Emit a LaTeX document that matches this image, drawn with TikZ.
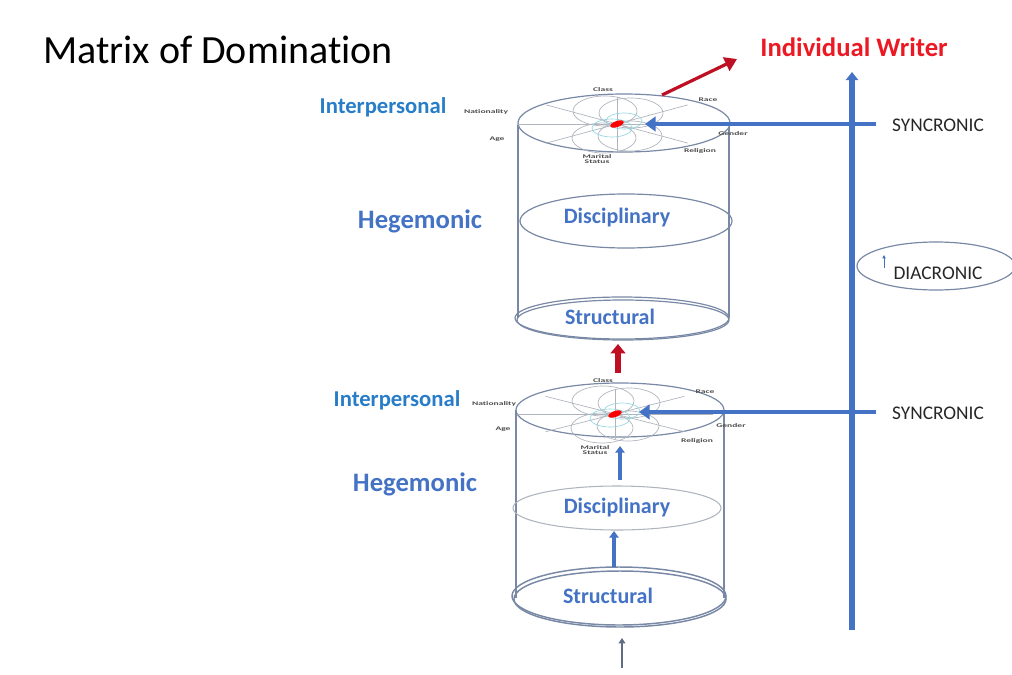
\documentclass[tikz,border=0pt]{standalone}
\usepackage{fontspec}
\setmainfont{Carlito}[Ligatures=NoCommon]
\usetikzlibrary{arrows.meta}
\definecolor{hegblue}{RGB}{68,114,196}
\definecolor{ipblue}{RGB}{40,125,200}
\definecolor{cylgrey}{RGB}{120,136,165}
\definecolor{petalgrey}{RGB}{175,180,190}
\definecolor{petalcyan}{RGB}{150,215,225}
\definecolor{writerred}{RGB}{235,25,35}
\definecolor{arrowred}{RGB}{190,15,35}
\newcommand{\widetxt}[1]{\scalebox{1.7}[1]{#1}}
\tikzset{every picture/.style={line width=0.75pt}}

\begin{document}
\begin{tikzpicture}[x=0.75pt,y=0.75pt,yscale=-1,xscale=1,
  cyl/.style={draw=cylgrey,line width=0.9pt},
  petal/.style={draw=petalgrey,line width=0.5pt},
  level/.style={font=\fontsize{16.5}{16.5}\bfseries,text=hegblue},
  sidelabel/.style={font=\fontsize{20}{20}\bfseries,text=hegblue},
  iplabel/.style={font=\fontsize{17}{17}\bfseries,text=ipblue},
  tiny/.style={font=\fontsize{4.2}{4.2}\bfseries,text=black!70,align=center,inner sep=0pt},
  timelabel/.style={font=\fontsize{14.5}{14.5}\selectfont,text=black!85},
  bluearrow/.style={draw=hegblue,line width=3.6pt,-{Triangle[length=8pt,width=11pt]}},
  redarrow/.style={draw=arrowred,-{Triangle[length=9pt,width=11pt]}}]
		\path[use as bounding box] (0,0) rectangle (1012,674);
		
		% Text Node
		\node (title) at (218,50) {\fontsize{30}{30}\selectfont Matrix of Domination};
		
		%Shape: Cylinder sides (upper)
		\draw [cyl]   (518,124) -- (518,318) ;
		\draw [cyl]   (729,124) -- (729,318) ;
		%Shape: Ellipse (upper disciplinary)
		\draw [cyl]   (626,221) ellipse (106 and 27) ;
		%Shape: Ellipse (upper structural)
		\draw [cyl]   (622,318) ellipse (107 and 21) ;
		\draw [cyl]   (623,320) ellipse (106 and 20) ;
		%Shape: Ellipse (upper top)
		\draw [cyl,fill=white]   (624,123) ellipse (106 and 29) ;
		
		%Shape: Petals (upper)
		\foreach \dx/\dy in {-12/-13,14/-11,-13/14,13/12}
		  {\draw [petal]   (617+\dx,124+\dy) ellipse (32 and 15) ;}
		\foreach \ang in {0,45,90,135,180,225,270,315}
		  {\draw [petal]   (617,124) -- ++({100*cos(\ang)},{27*sin(\ang)}) ;}
		\draw [draw=petalcyan,line width=0.5pt]   (612,128) ellipse (20 and 9) ;
		\draw [draw=petalcyan,line width=0.5pt]   (624,121) ellipse (18 and 8) ;
		\draw [fill=red,draw=none,rotate around={-20:(617,124)}]   (617,124) ellipse (7 and 3) ;
		
		%Shape: Cylinder sides (lower)
		\draw [cyl]   (516,410) -- (516,598) ;
		\draw [cyl]   (724,410) -- (724,598) ;
		%Shape: Ellipse (lower disciplinary)
		\draw [draw=petalgrey,line width=0.8pt]   (617,508) ellipse (104 and 22) ;
		%Shape: Ellipse (lower structural)
		\draw [cyl,line width=1.1pt]   (619,596) ellipse (107 and 29) ;
		\draw [cyl,line width=1.1pt]   (620,599) ellipse (106 and 28) ;
		%Shape: Ellipse (lower top)
		\draw [cyl,fill=white]   (620,410) ellipse (104 and 27) ;
		
		%Shape: Petals (lower)
		\foreach \dx/\dy in {-12/-13,14/-11,-13/14,13/12}
		  {\draw [petal]   (615+\dx,414+\dy) ellipse (31 and 15) ;}
		\foreach \ang in {0,45,90,135,180,225,270,315}
		  {\draw [petal]   (615,414) -- ++({98*cos(\ang)},{25*sin(\ang)}) ;}
		\draw [draw=petalcyan,line width=0.5pt]   (610,418) ellipse (20 and 9) ;
		\draw [draw=petalcyan,line width=0.5pt]   (622,411) ellipse (18 and 8) ;
		\draw [fill=red,draw=none,rotate around={-20:(615,414)}]   (615,414) ellipse (7 and 3) ;
		
		% Text Node (upper cylinder)
		\node [iplabel] (ipA) at (383,107) {Interpersonal};
		\node [sidelabel] (hgA) at (420,221) {Hegemonic};
		\node [level] (dsA) at (617,218) {Disciplinary};
		\node [level] (stA) at (610,317) {Structural};
		\node [tiny] (clA) at (603,90) {\widetxt{Class}};
		\node [tiny] (raA) at (708,100) {\widetxt{Race}};
		\node [tiny] (geA) at (733,134) {\widetxt{Gender}};
		\node [tiny] (reA) at (700,151) {\widetxt{Religion}};
		\node [tiny] (maA) at (597,159) {\widetxt{Marital}\\[-0.5pt]\widetxt{Status}};
		\node [tiny] (agA) at (497,139) {\widetxt{Age}};
		\node [tiny] (naA) at (486,112) {\widetxt{Nationality}};
		
		% Text Node (lower cylinder)
		\node [iplabel] (ipB) at (397,400) {Interpersonal};
		\node [sidelabel] (hgB) at (415,484) {Hegemonic};
		\node [level] (dsB) at (617,508) {Disciplinary};
		\node [level] (stB) at (608,596) {Structural};
		\node [tiny] (clB) at (603,381) {\widetxt{Class}};
		\node [tiny] (raB) at (705,392) {\widetxt{Race}};
		\node [tiny] (geB) at (731,426) {\widetxt{Gender}};
		\node [tiny] (reB) at (697,441) {\widetxt{Religion}};
		\node [tiny] (maB) at (595,450) {\widetxt{Marital}\\[-0.5pt]\widetxt{Status}};
		\node [tiny] (agB) at (503,429) {\widetxt{Age}};
		\node [tiny] (naB) at (494,404) {\widetxt{Nationality}};
		
		% Text Node (time axis)
		\node [font=\fontsize{20}{20}\bfseries,text=writerred] (writer) at (854,47) {Individual Writer};
		\node [timelabel] (synA) at (938,125) {SYNCRONIC};
		\node [timelabel] (synB) at (938,413) {SYNCRONIC};
		\node [timelabel] (dia) at (938,273) {DIACRONIC};
		\draw [draw=cylgrey,line width=0.9pt]   (936,266) ellipse (79 and 24) ;
		\coordinate (diaT) at (884,255) ;
		\coordinate (diaB) at (884,268) ;
		\draw [draw=hegblue,line width=0.6pt,-{Triangle[length=2.5pt,width=2.5pt]}]   (diaB) -- (diaT) ;
		
		% Arrows (time axis)
		\coordinate (axB) at (852,630) ;
		\coordinate (axT) at (852,72) ;
		\draw [bluearrow,line width=4.3pt,-{Triangle[length=6pt,width=9pt]}]   (axB) -- (axT) ;
		\coordinate (synAtail) at (876,124) ;
		\coordinate (synAtip) at (645,124) ;
		\draw [bluearrow]   (synAtail) -- (synAtip) ;
		\coordinate (synBtail) at (876,412) ;
		\coordinate (synBtip) at (639,412) ;
		\draw [bluearrow]   (synBtail) -- (synBtip) ;
		
		% Arrows (red)
		\coordinate (wrTail) at (662,95) ;
		\coordinate (wrTip) at (737,59) ;
		\draw [redarrow,line width=2.4pt]   (wrTail) -- (wrTip) ;
		\coordinate (upTail) at (618,373) ;
		\coordinate (upTip) at (618,344) ;
		\draw [redarrow,line width=4.5pt,-{Triangle[length=7pt,width=11pt]}]   (upTail) -- (upTip) ;
		
		% Arrows (lower cylinder)
		\coordinate (b1Tail) at (620,480) ;
		\coordinate (b1Tip) at (620,446) ;
		\draw [bluearrow,line width=3pt,-{Triangle[length=5pt,width=7pt]}]   (b1Tail) -- (b1Tip) ;
		\coordinate (b2Tail) at (614,567) ;
		\coordinate (b2Tip) at (614,531) ;
		\draw [bluearrow,line width=3pt,-{Triangle[length=5pt,width=7pt]}]   (b2Tail) -- (b2Tip) ;
		\coordinate (b3Tail) at (622,668) ;
		\coordinate (b3Tip) at (622,638) ;
		\draw [draw=cylgrey!80!black,line width=1.8pt,-{Triangle[length=4pt,width=5pt]}]   (b3Tail) -- (b3Tip) ;
		
		\end{tikzpicture}
\end{document}
